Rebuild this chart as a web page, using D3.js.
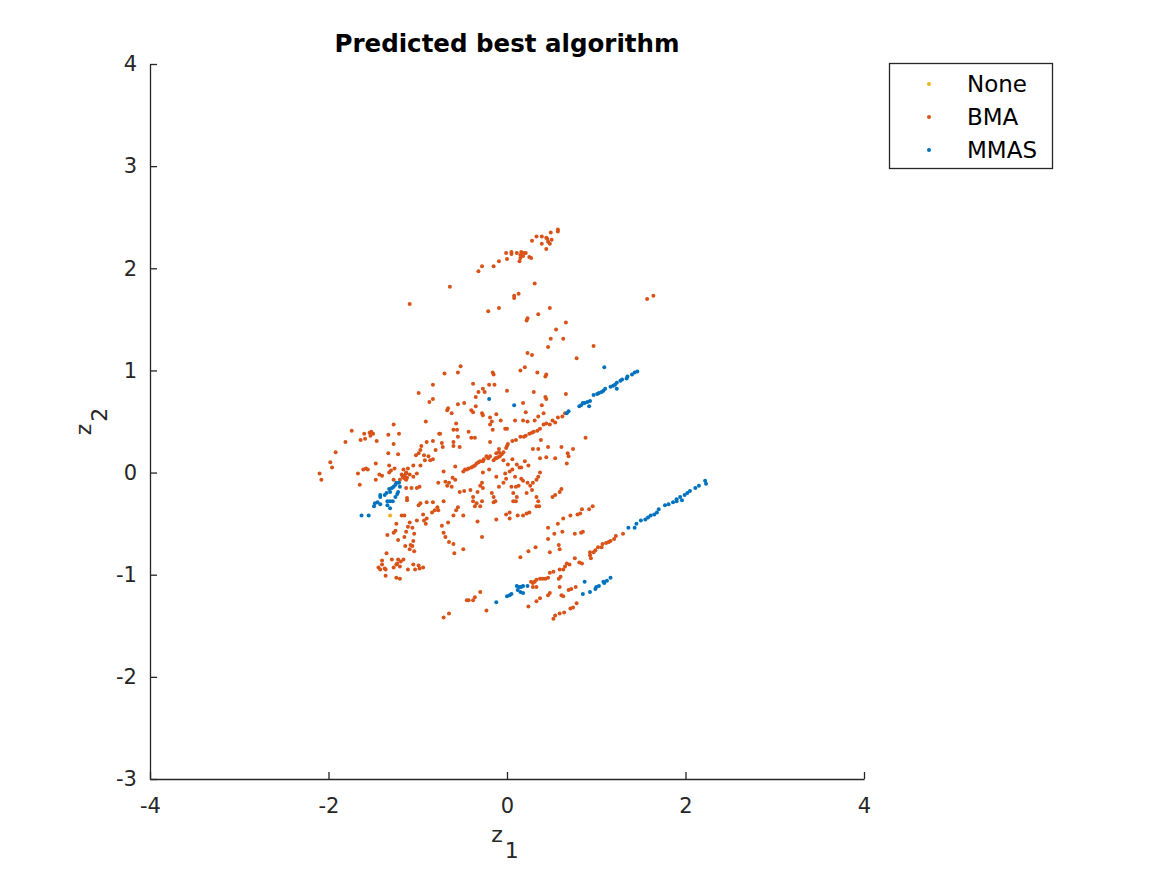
<!DOCTYPE html>
<html>
<head>
<meta charset="utf-8">
<script src="https://cdn.jsdelivr.net/npm/d3@7"></script>
<style>
  body { margin: 0; background: #fff; }
  svg text { font-family: "DejaVu Sans", sans-serif; fill: #262626; }
</style>
</head>
<body>
<div id="chart"></div>
<script>
// legend entries, drawn in this order
const seriesNames = ["None", "BMA", "MMAS"];
const seriesColors = ["#EDB120", "#D95319", "#0072BD"];

const xTicks = [-4, -2, 0, 2, 4];
const yTicks = [-3, -2, -1, 0, 1, 2, 3, 4];

// points, [z1, z2]
const nonePoints = [[-1.31, -0.42]];

const bmaPoints = [
  [-1.09, 1.65],
  [0.57, 2.38], [0.57, 2.36], [0.49, 2.35], [0.33, 2.31], [0.39, 2.31], [0.44, 2.30], [0.45, 2.29],
  [0.50, 2.28], [0.46, 2.26], [0.48, 2.24], [0.39, 2.24], [0.28, 2.27], [0.44, 2.19], [-0.01, 2.15],
  [0.05, 2.16], [0.05, 2.14], [0.11, 2.15], [0.16, 2.16], [0.19, 2.15], [0.21, 2.15], [0.15, 2.13],
  [0.18, 2.12], [0.15, 2.10], [0.14, 2.07], [0.25, 2.11], [0.27, 2.10], [0.00, 2.09], [-0.09, 2.07],
  [-0.15, 2.02], [-0.28, 2.02], [-0.32, 1.97], [-0.64, 1.82], [0.31, 1.85], [0.13, 1.75], [0.08, 1.73],
  [0.08, 1.71], [-0.09, 1.61], [-0.21, 1.58], [0.48, 1.61], [0.23, 1.51], [0.22, 1.49], [0.35, 1.55],
  [0.66, 1.47], [0.55, 1.40], [0.49, 1.31], [0.63, 1.31], [0.46, 1.23], [0.23, 1.17], [0.28, 1.15],
  [0.78, 1.12],
  [1.64, 1.73], [1.57, 1.70], [0.97, 1.24], [0.88, 0.34],
  // lower right strands
  [1.30, -0.60], [1.22, -0.62], [1.20, -0.65], [1.16, -0.67], [1.14, -0.68], [1.11, -0.69], [1.07, -0.70],
  [1.06, -0.73], [1.02, -0.73], [0.99, -0.76], [0.97, -0.78], [0.93, -0.78], [0.93, -0.81], [0.94, -0.84],
  [0.84, -0.89], [0.85, -0.58], [0.83, -0.59], [0.92, -0.36], [0.96, -0.33], [0.82, -0.40], [0.84, -0.36],
  [-0.71, -0.28], [-0.38, -0.28], [-0.34, -0.30], [-0.28, -0.28], [-0.30, -0.33], [-0.36, -0.33],
  [-0.15, -0.29], [-0.13, -0.28], [0.07, -0.28], [0.10, -0.28], [0.35, -0.28], [0.33, -0.33], [0.36, -0.33],
  [-0.55, -0.34], [-0.57, -0.37], [-0.60, -0.42], [-0.49, -0.42], [-0.66, -0.49], [-0.73, -0.52],
  [-0.71, -0.59], [-0.69, -0.63], [-0.65, -0.68], [-0.60, -0.70], [-0.59, -0.79], [-0.49, -0.75],
  [-0.33, -0.48], [-0.28, -0.63], [-0.12, -0.46], [-0.01, -0.41], [0.03, -0.39], [0.03, -0.45],
  [0.12, -0.42], [0.18, -0.42], [0.22, -0.40], [0.25, -0.39], [0.63, -0.45], [0.71, -0.42], [0.79, -0.41],
  [0.57, -0.50], [0.46, -0.54], [0.62, -0.58], [0.53, -0.60], [0.46, -0.65], [0.58, -0.71], [0.59, -0.75],
  [0.48, -0.78], [0.32, -0.73], [0.24, -0.77], [0.15, -0.83], [0.76, -0.60],
  [0.67, -0.89], [0.70, -0.90], [0.65, -0.92], [0.63, -0.95], [0.59, -0.95], [0.52, -0.97], [0.48, -0.98],
  [0.46, -1.03], [0.43, -1.04], [0.40, -1.04], [0.37, -1.04], [0.33, -1.05], [0.31, -1.07], [0.29, -1.08],
  [0.27, -1.07], [0.33, -1.12], [0.29, -1.12], [0.58, -1.04], [0.60, -1.02], [0.76, -0.84], [0.81, -0.88],
  [0.59, -1.12], [0.48, -1.18], [0.46, -1.20], [0.37, -1.23], [0.33, -1.26], [0.24, -1.31], [0.69, -1.15],
  [0.72, -1.14], [0.77, -1.12], [0.63, -1.21], [0.61, -1.20], [0.71, -1.33], [0.74, -1.32], [0.78, -1.28],
  [0.64, -1.37], [0.59, -1.38], [0.54, -1.40], [0.52, -1.43], [-0.30, -1.17], [-0.36, -1.22],
  [-0.38, -1.25], [-0.43, -1.25], [-0.45, -1.25], [-0.23, -1.35], [-0.71, -1.42], [-0.65, -1.38],
  // left cluster
  [-1.12, -0.27], [-0.99, -0.32], [-0.97, -0.30], [-0.90, -0.29], [-0.83, -0.29], [-0.78, -0.34],
  [-0.81, -0.37], [-0.84, -0.39], [-0.77, -0.37], [-0.94, -0.41], [-0.90, -0.45], [-0.93, -0.47],
  [-0.91, -0.50], [-1.01, -0.47], [-1.24, -0.50], [-1.09, -0.49], [-1.11, -0.53], [-1.06, -0.54],
  [-1.13, -0.58], [-1.18, -0.42], [-1.15, -0.42], [-1.25, -0.57], [-1.27, -0.59], [-1.34, -0.61],
  [-1.15, -0.63], [-1.04, -0.60], [-1.22, -0.66], [-1.05, -0.67], [-1.08, -0.71], [-1.06, -0.72],
  [-1.14, -0.72], [-1.09, -0.75], [-1.04, -0.77], [-1.35, -0.79], [-1.29, -0.85], [-1.22, -0.85],
  [-1.16, -0.85], [-1.40, -0.86], [-1.19, -0.87], [-1.23, -0.89], [-1.24, -0.90], [-1.40, -0.90],
  [-1.44, -0.93], [-1.42, -0.95], [-1.37, -0.94], [-1.36, -0.95], [-1.27, -0.93], [-1.20, -0.92],
  [-1.11, -0.95], [-1.05, -0.90], [-0.99, -0.91], [-1.03, -0.95], [-0.98, -0.94], [-0.94, -0.93],
  [-1.36, -1.01], [-1.24, -1.03], [-1.20, -1.04],
  [-0.83, 0.86], [-0.99, 0.78], [-0.87, 0.69], [-0.83, 0.72], [-0.91, 0.50], [-1.74, 0.41], [-1.81, 0.30],
  [-1.60, 0.38], [-1.54, 0.39], [-1.52, 0.40], [-1.50, 0.38], [-1.53, 0.36], [-1.64, 0.32], [-1.59, 0.33],
  [-1.46, 0.31], [-1.33, 0.37], [-1.21, 0.38], [-1.27, 0.47], [-1.92, 0.20], [-1.98, 0.10], [-1.96, 0.05],
  [-2.10, -0.01], [-2.08, -0.07], [-1.27, 0.28], [-1.33, 0.19], [-1.22, 0.18], [-1.47, 0.09],
  [-1.67, -0.01], [-1.61, 0.03], [-1.58, 0.04], [-1.56, 0.03], [-1.32, 0.07], [-1.26, 0.04], [-1.30, 0.02],
  [-1.32, 0.00], [-1.43, -0.02], [-1.40, -0.03], [-1.47, -0.07], [-1.65, -0.12], [-1.27, -0.07],
  [-1.16, 0.03], [-1.13, -0.01], [-1.11, 0.04], [-1.05, 0.07], [-0.97, 0.07], [-1.01, -0.01],
  [-1.05, -0.04], [-1.09, -0.02], [-1.18, -0.02], [-1.17, -0.04], [-1.14, -0.06], [-1.12, -0.05],
  [-1.13, -0.07], [-1.16, -0.05], [-1.20, -0.07], [-1.15, -0.03], [-1.13, 0.00], [-1.07, -0.15],
  [-1.13, -0.15], [-1.01, -0.15], [-0.98, -0.14], [-1.12, -0.25], [-0.90, 0.30], [-0.83, 0.31],
  [-0.76, 0.38], [-0.80, 0.22], [-0.96, 0.26], [-0.97, 0.22], [-0.99, 0.19], [-1.02, 0.17], [-0.93, 0.17],
  [-0.88, 0.16], [-0.86, 0.12], [-0.83, 0.13], [-0.92, 0.12], [-0.77, -0.10],
  // centre cloud
  [-0.52, 1.04], [-0.70, 0.97], [-0.55, 0.98], [-0.38, 0.87], [-0.32, 0.79], [-0.27, 0.82], [-0.25, 0.79],
  [-0.16, 0.98], [-0.15, 0.96], [-0.20, 0.86], [-0.14, 0.86], [0.00, 0.80], [0.15, 1.00], [0.20, 1.03],
  [0.34, 0.98], [0.43, 0.94], [0.44, 0.96], [0.30, 0.79], [0.43, 0.74], [0.44, 0.72], [0.66, 0.77],
  [0.39, 0.66], [0.18, 0.68], [-0.35, 0.74], [-0.35, 0.65], [-0.55, 0.67], [-0.48, 0.68], [-0.66, 0.63],
  [-0.67, 0.61], [-0.62, 0.58], [-0.40, 0.61], [-0.38, 0.59], [-0.28, 0.58], [-0.27, 0.56], [-0.19, 0.54],
  [-0.12, 0.57], [-0.17, 0.50], [-0.07, 0.51], [-0.19, 0.47], [-0.16, 0.42], [-0.02, 0.43], [0.00, 0.43],
  [0.09, 0.51], [0.18, 0.51], [0.21, 0.59], [0.23, 0.50], [0.31, 0.51], [0.35, 0.55], [0.41, 0.58],
  [0.54, 0.49], [0.51, 0.51], [0.57, 0.54], [0.62, 0.55], [0.65, 0.58], [0.48, 0.47], [0.44, 0.48],
  [0.41, 0.47], [0.37, 0.43], [0.34, 0.41], [0.30, 0.40], [0.28, 0.39], [0.25, 0.38], [0.21, 0.36],
  [0.19, 0.35], [0.15, 0.35], [0.10, 0.32], [0.06, 0.31], [0.01, 0.28], [0.00, 0.26], [-0.01, 0.24],
  [-0.04, 0.20], [-0.08, 0.16], [-0.12, 0.14], [-0.15, 0.12], [-0.19, 0.16], [-0.23, 0.16], [-0.26, 0.13],
  [-0.27, 0.11], [-0.30, 0.11], [-0.34, 0.09], [-0.38, 0.06], [-0.40, 0.05], [-0.43, 0.04], [-0.47, 0.03],
  [-0.49, 0.01], [-0.45, 0.03], [-0.36, 0.07], [-0.32, 0.10], [-0.21, 0.14], [-0.06, 0.18], [-0.10, 0.15],
  [-0.57, 0.48], [-0.56, 0.42], [-0.60, 0.42], [-0.43, 0.40], [-0.40, 0.34], [-0.36, 0.34], [-0.55, 0.35],
  [-0.60, 0.30], [-0.60, 0.26], [-0.53, 0.25], [-0.72, 0.25], [-0.73, 0.29], [-0.75, 0.38], [-0.19, 0.30],
  [-0.09, 0.23], [-0.09, 0.20], [-0.12, 0.19], [-0.13, 0.14], [-0.04, 0.12], [0.01, 0.08], [0.06, 0.13],
  [0.11, 0.08], [0.06, 0.03], [0.03, 0.01], [0.14, 0.05], [0.16, 0.05], [0.24, 0.07], [0.20, 0.11],
  [0.37, 0.14], [0.44, 0.15], [0.54, 0.14], [0.69, 0.16], [0.67, 0.09], [0.61, 0.25], [0.46, 0.25],
  [0.35, 0.23], [0.29, 0.23], [0.68, 0.19], [0.74, 0.23], [0.38, 0.32], [-0.71, 0.01], [-0.61, -0.05],
  [-0.58, -0.07], [-0.65, -0.10], [-0.67, -0.13], [-0.69, -0.09], [-0.62, -0.14], [-0.58, 0.06],
  [-0.27, 0.00], [-0.20, 0.03], [-0.12, -0.04], [-0.02, -0.01], [-0.01, -0.06], [0.09, -0.04],
  [0.10, -0.14], [0.13, -0.13], [0.18, -0.08], [0.16, -0.06], [0.23, -0.10], [0.26, -0.13], [0.29, -0.10],
  [0.33, -0.07], [0.35, -0.04], [0.37, 0.00], [0.28, -0.17], [0.22, -0.20], [0.11, -0.24], [0.05, -0.14],
  [-0.04, -0.10], [-0.09, -0.14], [-0.28, -0.10], [-0.30, -0.13], [-0.27, -0.15], [-0.33, -0.19],
  [-0.41, -0.17], [-0.48, -0.18], [-0.53, -0.19], [-0.38, -0.24], [-0.17, -0.20], [-0.15, -0.24],
  [0.07, -0.20], [0.51, -0.24], [0.54, -0.22], [0.59, -0.19], [0.61, -0.16], [0.33, -0.24]
];

const mmasPoints = [
  // upper strand
  [1.09, 1.03], [1.46, 0.99], [1.43, 0.98], [1.40, 0.96], [1.35, 0.94], [1.34, 0.92], [1.29, 0.91],
  [1.27, 0.90], [1.23, 0.88], [1.21, 0.86], [1.19, 0.85], [1.16, 0.84], [1.23, 0.82], [1.10, 0.82],
  [1.08, 0.80], [1.06, 0.79], [1.03, 0.78], [1.01, 0.77], [0.97, 0.76], [0.93, 0.70], [0.90, 0.69],
  [0.87, 0.68], [0.85, 0.68], [0.83, 0.66], [0.92, 0.65], [0.69, 0.60], [0.67, 0.58], [0.81, 0.65],
  [-0.20, 0.72], [0.08, 0.66],
  // lower strand
  [2.22, -0.08], [2.23, -0.11], [2.15, -0.13], [2.11, -0.15], [2.05, -0.18], [2.02, -0.20], [1.99, -0.22],
  [1.94, -0.24], [1.90, -0.26], [1.96, -0.27], [1.90, -0.28], [1.86, -0.29], [1.81, -0.31], [1.77, -0.32],
  [1.70, -0.36], [1.68, -0.39], [1.65, -0.41], [1.61, -0.42], [1.58, -0.44], [1.55, -0.46], [1.50, -0.47],
  [1.45, -0.50], [1.43, -0.54], [1.36, -0.54],
  [1.16, -1.03], [1.12, -1.06], [1.08, -1.07], [1.09, -1.08], [1.03, -1.11], [1.00, -1.12], [0.99, -1.14],
  [0.93, -1.17], [0.85, -1.19], [0.87, -1.07],
  [0.11, -1.11], [0.14, -1.12], [0.16, -1.12], [0.18, -1.11], [0.23, -1.11], [0.12, -1.15], [0.15, -1.17],
  [0.18, -1.18], [0.05, -1.19], [0.03, -1.20], [0.00, -1.21], [-0.12, -1.27],
  // left knot
  [-1.48, -0.30], [-1.45, -0.29], [-1.42, -0.31], [-1.49, -0.33], [-1.34, -0.28], [-1.31, -0.28],
  [-1.28, -0.28], [-1.34, -0.32], [-1.31, -0.35], [-1.63, -0.42], [-1.55, -0.42],
  [-1.24, -0.10], [-1.21, -0.10], [-1.25, -0.12], [-1.27, -0.14], [-1.29, -0.15], [-1.32, -0.16],
  [-1.31, -0.19], [-1.35, -0.20], [-1.42, -0.22], [-1.42, -0.24], [-1.37, -0.22], [-1.22, -0.19],
  [-1.20, -0.14], [-1.23, -0.21], [-1.25, -0.24]
];

const seriesData = [nonePoints, bmaPoints, mmasPoints];

const W = 1167, H = 875;
const plot = { left: 150, top: 64, right: 864, bottom: 779 };

const svg = d3.select("#chart").append("svg")
    .attr("width", W)
    .attr("height", H);

const x = d3.scaleLinear().domain([-4, 4]).range([plot.left, plot.right]);
const y = d3.scaleLinear().domain([-3, 4]).range([plot.bottom, plot.top]);

// axes, ticks point inward like matlab
const xAxis = svg.append("g")
    .attr("transform", `translate(0,${plot.bottom})`)
    .call(d3.axisBottom(x).tickValues(xTicks).tickSizeInner(-7).tickSizeOuter(0).tickPadding(19));
const yAxis = svg.append("g")
    .attr("transform", `translate(${plot.left},0)`)
    .call(d3.axisLeft(y).tickValues(yTicks).tickSizeInner(-7).tickSizeOuter(0).tickPadding(13));

[xAxis, yAxis].forEach(g => {
    g.select(".domain").attr("stroke", "#262626").attr("stroke-width", 1.3);
    g.selectAll(".tick line").attr("stroke", "#262626").attr("stroke-width", 1.3);
    g.selectAll(".tick text")
        .attr("fill", "#262626")
        .style("font-size", "21px")
        .style("font-family", "DejaVu Sans, sans-serif")
        .text(d => d < 0 ? "-" + Math.abs(d) : d);
});

// points
seriesData.forEach((pts, i) => {
    svg.append("g")
        .selectAll("circle")
        .data(pts)
        .enter().append("circle")
            .attr("cx", d => x(d[0]))
            .attr("cy", d => y(d[1]))
            .attr("r", 2)
            .attr("fill", seriesColors[i]);
});

// title
svg.append("text")
    .attr("x", (plot.left + plot.right) / 2)
    .attr("y", 52)
    .attr("text-anchor", "middle")
    .attr("font-weight", "bold")
    .style("font-size", "24.5px")
    .style("fill", "#000")
    .text("Predicted best algorithm");

// axis labels with subscripts
const xl = svg.append("text")
    .attr("x", 505)
    .attr("y", 842)
    .attr("text-anchor", "middle")
    .style("font-size", "22px");
xl.append("tspan").text("z");
xl.append("tspan").attr("dy", 16).attr("dx", 2).text("1");

const yl = svg.append("text")
    .attr("transform", `translate(91,${(plot.top + plot.bottom) / 2}) rotate(-90)`)
    .attr("text-anchor", "middle")
    .style("font-size", "22px");
yl.append("tspan").text("z");
yl.append("tspan").attr("dy", 16).attr("dx", 2).text("2");

// legend
const lg = svg.append("g").attr("transform", "translate(889,63)");
lg.append("rect")
    .attr("x", 0.5).attr("y", 0.5)
    .attr("width", 163).attr("height", 105)
    .attr("fill", "#fff")
    .attr("stroke", "#262626")
    .attr("stroke-width", 1.3);

const items = lg.selectAll(".legend").data(seriesNames)
    .enter().append("g")
    .attr("class", "legend")
    .attr("transform", (d, i) => `translate(0,${21 + i * 33})`);
items.append("circle")
    .attr("cx", 40).attr("cy", 0).attr("r", 2)
    .attr("fill", (d, i) => seriesColors[i]);
items.append("text")
    .attr("x", 78)
    .attr("dy", "0.35em")
    .style("font-size", "23px")
    .style("fill", "#000")
    .text(d => d);
</script>
</body>
</html>
